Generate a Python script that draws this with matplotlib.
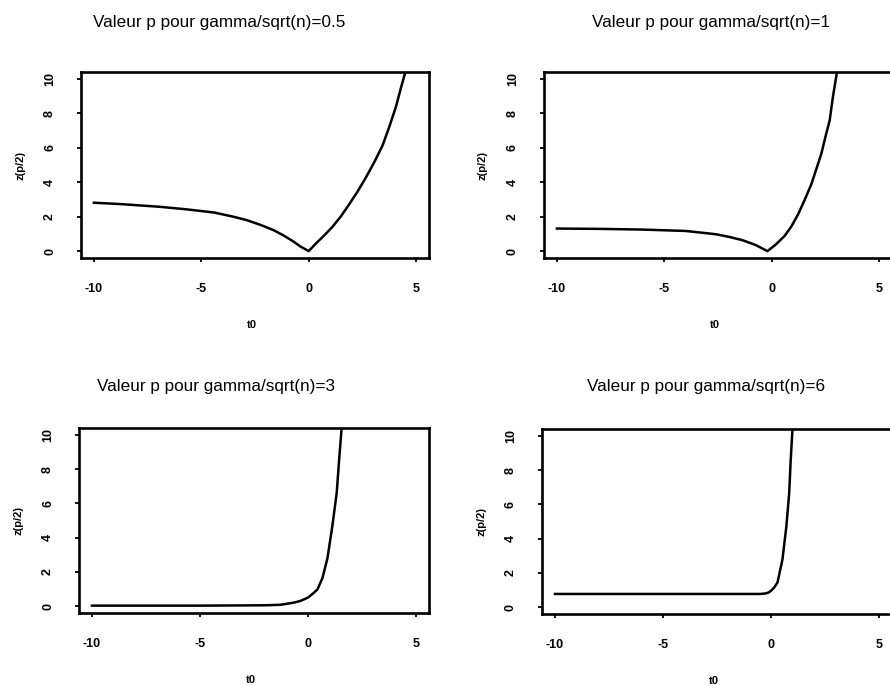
import numpy as np
import matplotlib
matplotlib.use("Agg")
import matplotlib.pyplot as plt

plt.rcParams['font.family'] = ['Liberation Sans', 'DejaVu Sans']

W, H = 890, 686

# curves read as (t0, z(p/2)) pairs, one per gamma/sqrt(n) value
gammas = ["0.5", "1", "3", "6"]

t0_05 = [-10, -8.75, -6.9, -5.65, -4.4, -3.48, -2.86, -2.24, -1.62, -1.16, -0.7, -0.39, 0.0,
         0.34, 0.73, 1.12, 1.5, 1.89, 2.28, 2.67, 3.05, 3.44, 3.75, 4.06, 4.29, 4.5]
z_05 = [2.81, 2.73, 2.57, 2.42, 2.24, 1.99, 1.79, 1.52, 1.21, 0.90, 0.55, 0.27, 0.0,
        0.45, 0.92, 1.43, 2.02, 2.73, 3.47, 4.29, 5.16, 6.14, 7.21, 8.38, 9.46, 10.4]

t0_1 = [-10, -8, -6, -4, -2.6, -1.96, -1.35, -0.74, -0.2, 0.16, 0.6, 0.92, 1.23, 1.53,
        1.85, 2.07, 2.31, 2.5, 2.7, 2.85, 3.03]
z_1 = [1.31, 1.29, 1.25, 1.17, 0.98, 0.82, 0.63, 0.35, 0.0, 0.35, 0.88, 1.44, 2.14, 2.96,
       3.9, 4.74, 5.65, 6.63, 7.6, 8.96, 10.33]

t0_3 = [-10, -5, -2, -1.27, -0.64, -0.34, 0.0, 0.28, 0.44, 0.67, 0.9, 1.13, 1.33, 1.44, 1.55]
z_3 = [0.03, 0.03, 0.05, 0.08, 0.21, 0.31, 0.5, 0.79, 0.98, 1.65, 2.8, 4.71, 6.63, 8.55, 10.3]

t0_6 = [-10, -5, -0.5, -0.25, -0.1, 0.0, 0.15, 0.3, 0.53, 0.71, 0.84, 0.91, 0.99]
z_6 = [0.77, 0.77, 0.77, 0.80, 0.86, 0.96, 1.15, 1.44, 2.79, 4.71, 6.63, 8.56, 10.3]

series = [(t0_05, z_05), (t0_1, z_1), (t0_3, z_3), (t0_6, z_6)]

xticks = [-10, -5, 0, 5]
yticks = [0, 2, 4, 6, 8, 10]

# panel boxes in pixels: left, top, right, bottom
boxes = [(81, 72, 429, 258), (544, 72, 892, 258),
         (79, 428, 429, 613), (542, 429, 892, 614)]
title_pos = [(219, 22), (711, 22), (216, 386), (706, 386)]


def rect(l, t, r, b):
    return [l / W, 1 - b / H, (r - l) / W, (b - t) / H]


fig = plt.figure(figsize=(W / 100, H / 100), dpi=100)

for i, (t0, z) in enumerate(series):
    l, t, r, b = boxes[i]
    ax = fig.add_axes(rect(l, t, r, b))
    ax.plot(t0, z, color='black', lw=1.8, solid_joinstyle='round')
    ax.set_xlim(-10.6, 5.6)
    ax.set_ylim(-0.4, 10.4)
    ax.set_xticks(xticks)
    ax.set_yticks(yticks)
    ax.set_xticklabels([str(v) for v in xticks], fontsize=9, fontweight='bold')
    ax.set_yticklabels([str(v) for v in yticks], fontsize=9, fontweight='bold',
                       rotation=90, va='center')
    ax.tick_params(axis='x', length=3, width=1.3, pad=15)
    ax.tick_params(axis='y', length=3, width=1.3, pad=15)
    for s in ax.spines.values():
        s.set_linewidth(1.9)

    tx, ty = title_pos[i]
    fig.text(tx / W, 1 - ty / H, "Valeur p pour gamma/sqrt(n)=" + gammas[i],
             ha='center', va='center', fontsize=12.3)
    fig.text((l + (r - l) * 0.49) / W, 1 - (b + 67) / H, "t0",
             ha='center', va='center', fontsize=8, fontweight='bold')
    fig.text((l - 61) / W, 1 - ((t + b) / 2) / H, "z(p/2)",
             ha='center', va='center', fontsize=8, fontweight='bold', rotation=90)

fig.savefig("out.png", dpi=100, facecolor='white')
